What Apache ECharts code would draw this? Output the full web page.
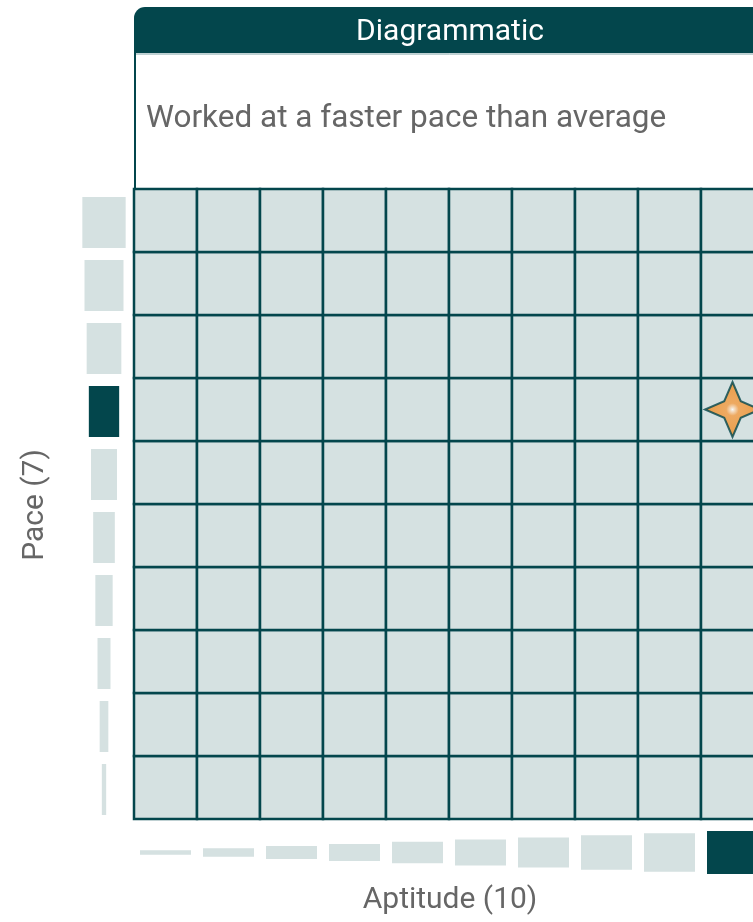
<!DOCTYPE html>
<html>
<head>
<meta charset="utf-8">
<script src="https://cdn.jsdelivr.net/npm/echarts@6/dist/echarts.min.js"></script>
<style>html,body{margin:0;padding:0;background:#fff;overflow:hidden}#chart{width:800px;height:922px}</style>
</head>
<body>
<div id="chart"></div>
<script>
// ---- data ----
const aptitudeLevels = ['1','2','3','4','5','6','7','8','9','10'];
const paceLevels = ['1','2','3','4','5','6','7','8','9','10'];
const aptitudeBarValues = [1,2,3,4,5,6,7,8,9,10];
const paceBarValues = [1,2,3,4,5,6,7,8,9,10];
const aptitudeScore = 10;
const paceScore = 7;
const headerTitle = 'Diagrammatic';
const description = 'Worked at a faster pace than average';

const DARK = '#03464c';
const LIGHT = '#d5e1e1';
const GREY = '#666666';
const FONT = 'Roboto';

const cells = [];
aptitudeLevels.forEach(function (a) { paceLevels.forEach(function (p) { cells.push([a, p]); }); });

const chart = echarts.init(document.getElementById('chart'), null, {renderer: 'canvas'});
const option = {
  animation: false,
  grid: [
    {left: 134, top: 189, width: 630, height: 630},
    {left: 78, top: 191, width: 52, height: 630},
    {left: 134, top: 826.7, width: 630, height: 51.6}
  ],
  xAxis: [
    {type: 'category', gridIndex: 0, data: aptitudeLevels, show: false},
    {type: 'value', gridIndex: 1, min: -6, max: 6, show: false},
    {type: 'category', gridIndex: 2, data: aptitudeLevels, show: false}
  ],
  yAxis: [
    {type: 'category', gridIndex: 0, data: paceLevels, show: false},
    {type: 'category', gridIndex: 1, data: paceLevels, show: false},
    {type: 'value', gridIndex: 2, min: -6, max: 6, show: false}
  ],
  graphic: [
    {type: 'rect', shape: {x: 134, y: 7, width: 630, height: 46, r: [11, 0, 0, 0]}, style: {fill: DARK}, z: 10},
    {type: 'line', shape: {x1: 135, y1: 54, x2: 764, y2: 54}, style: {stroke: '#7fa3a6', lineWidth: 1}, z: 10},
    {type: 'line', shape: {x1: 135, y1: 40, x2: 135, y2: 190}, style: {stroke: DARK, lineWidth: 2}, z: 10},
    {type: 'text', x: 450, y: 32, style: {text: headerTitle, fill: '#fff', font: '30px ' + FONT, textAlign: 'center', textVerticalAlign: 'middle'}, z: 11},
    {type: 'text', x: 146, y: 119, style: {text: description, fill: GREY, font: '31.5px ' + FONT, textAlign: 'left', textVerticalAlign: 'middle'}, z: 11},
    {type: 'text', x: 35, y: 505, rotation: Math.PI / 2, style: {text: 'Pace (' + paceScore + ')', fill: GREY, font: '30px ' + FONT, textAlign: 'center', textVerticalAlign: 'middle'}, z: 11},
    {type: 'text', x: 450, y: 900, style: {text: 'Aptitude (' + aptitudeScore + ')', fill: GREY, font: '30px ' + FONT, textAlign: 'center', textVerticalAlign: 'middle'}, z: 11}
  ],
  series: [
    {
      type: 'custom', xAxisIndex: 0, yAxisIndex: 0, data: cells,
      encode: {x: 0, y: 1},
      renderItem: function (params, api) {
        const c = api.coord([api.value(0), api.value(1)]);
        const s = api.size([1, 1]);
        return {type: 'rect', shape: {x: c[0] - s[0] / 2, y: c[1] - s[1] / 2, width: s[0], height: s[1]},
          style: {fill: LIGHT, stroke: DARK, lineWidth: 2.5}};
      }
    },
    {
      type: 'custom', xAxisIndex: 1, yAxisIndex: 1,
      data: paceBarValues.map(function (v, i) { return [v, paceLevels[i]]; }),
      encode: {x: 0, y: 1},
      renderItem: function (params, api) {
        const v = api.value(0);
        const a = api.coord([-v / 2, api.value(1)]);
        const b = api.coord([v / 2, api.value(1)]);
        const h = api.size([0, 1])[1] - 12;
        return {type: 'rect', shape: {x: a[0], y: a[1] - h / 2, width: b[0] - a[0], height: h},
          style: {fill: v === paceScore ? DARK : LIGHT}};
      }
    },
    {
      type: 'custom', xAxisIndex: 2, yAxisIndex: 2,
      data: aptitudeBarValues.map(function (v, i) { return [aptitudeLevels[i], v]; }),
      encode: {x: 0, y: 1},
      renderItem: function (params, api) {
        const v = api.value(1);
        const a = api.coord([api.value(0), v / 2]);
        const b = api.coord([api.value(0), -v / 2]);
        const w = api.size([1, 0])[0] - 12;
        return {type: 'rect', shape: {x: a[0] - w / 2, y: a[1], width: w, height: b[1] - a[1]},
          style: {fill: v === aptitudeScore ? DARK : LIGHT}};
      }
    },
    {
      type: 'scatter', xAxisIndex: 0, yAxisIndex: 0, z: 5,
      data: [[String(aptitudeScore), String(paceScore)]],
      symbol: 'path://M50,0 L65,35 L100,50 L65,65 L50,100 L35,65 L0,50 L35,35 Z',
      symbolSize: 55,
      itemStyle: {
        color: {type: 'radial', x: 0.5, y: 0.5, r: 0.5, colorStops: [{offset: 0, color: '#ffffff'}, {offset: 0.07, color: '#fcdcbb'}, {offset: 0.22, color: '#f49c42'}, {offset: 1, color: '#ee8a22'}]},
        borderColor: DARK, borderWidth: 2
      }
    }
  ]
};
chart.setOption(option);
</script>
</body>
</html>
